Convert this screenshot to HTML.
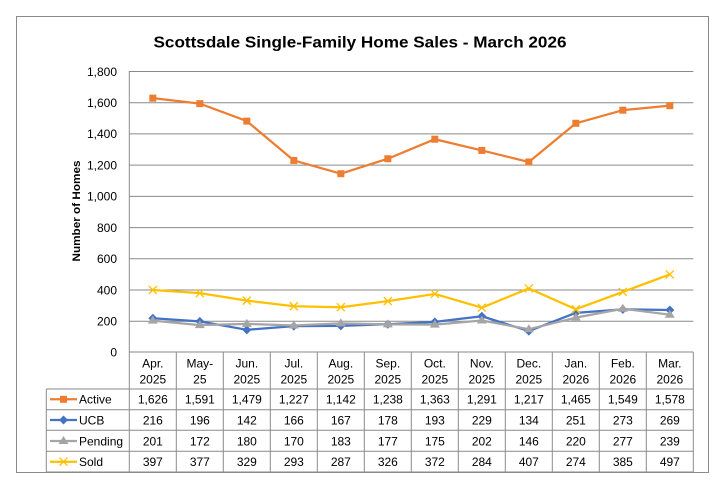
<!DOCTYPE html>
<html><head><meta charset="utf-8"><style>
html,body{margin:0;padding:0;background:#fff;}
svg{display:block;}
text{font-family:"Liberation Sans",Arial,sans-serif;fill:#000;}
</style></head><body>
<svg width="720" height="480" viewBox="0 0 720 480" xmlns="http://www.w3.org/2000/svg">
<rect x="0" y="0" width="720" height="480" fill="#fff"/>
<rect x="16.5" y="16.5" width="692" height="456" fill="none" stroke="#8a8a8a" stroke-width="1"/>
<text x="360" y="47.3" font-size="16" font-weight="bold" text-anchor="middle" textLength="413" lengthAdjust="spacingAndGlyphs">Scottsdale Single-Family Home Sales - March 2026</text>
<text transform="translate(80,211) rotate(-90)" font-size="11" font-weight="bold" text-anchor="middle" textLength="101" lengthAdjust="spacingAndGlyphs">Number of Homes</text>
<g stroke="#8a8a8a" stroke-width="1" fill="none">
<line x1="129.3" y1="71.5" x2="693.3" y2="71.5"/>
<line x1="129.3" y1="102.7" x2="693.3" y2="102.7"/>
<line x1="129.3" y1="133.9" x2="693.3" y2="133.9"/>
<line x1="129.3" y1="165.1" x2="693.3" y2="165.1"/>
<line x1="129.3" y1="196.4" x2="693.3" y2="196.4"/>
<line x1="129.3" y1="227.6" x2="693.3" y2="227.6"/>
<line x1="129.3" y1="258.8" x2="693.3" y2="258.8"/>
<line x1="129.3" y1="290.0" x2="693.3" y2="290.0"/>
<line x1="129.3" y1="321.2" x2="693.3" y2="321.2"/>
<line x1="129.3" y1="352" x2="693.3" y2="352"/>
<line x1="129.3" y1="71" x2="129.3" y2="472.5"/>
<line x1="176.3" y1="352" x2="176.3" y2="472.5"/>
<line x1="223.3" y1="352" x2="223.3" y2="472.5"/>
<line x1="270.3" y1="352" x2="270.3" y2="472.5"/>
<line x1="317.3" y1="352" x2="317.3" y2="472.5"/>
<line x1="364.3" y1="352" x2="364.3" y2="472.5"/>
<line x1="411.3" y1="352" x2="411.3" y2="472.5"/>
<line x1="458.3" y1="352" x2="458.3" y2="472.5"/>
<line x1="505.3" y1="352" x2="505.3" y2="472.5"/>
<line x1="552.3" y1="352" x2="552.3" y2="472.5"/>
<line x1="599.3" y1="352" x2="599.3" y2="472.5"/>
<line x1="646.3" y1="352" x2="646.3" y2="472.5"/>
<line x1="693.3" y1="352" x2="693.3" y2="472.5"/>
<line x1="46.3" y1="389" x2="46.3" y2="472.5"/>
<line x1="46.3" y1="389" x2="693.3" y2="389"/>
<line x1="46.3" y1="409.7" x2="693.3" y2="409.7"/>
<line x1="46.3" y1="430.3" x2="693.3" y2="430.3"/>
<line x1="46.3" y1="451.3" x2="693.3" y2="451.3"/>
<line x1="46.3" y1="472.3" x2="693.3" y2="472.3" stroke-width="1.5"/>
</g>
<g font-size="12" text-anchor="end">
<text x="117" y="75.8">1,800</text>
<text x="117" y="107">1,600</text>
<text x="117" y="138.2">1,400</text>
<text x="117" y="169.4">1,200</text>
<text x="117" y="200.7">1,000</text>
<text x="117" y="231.9">800</text>
<text x="117" y="263.1">600</text>
<text x="117" y="294.3">400</text>
<text x="117" y="325.5">200</text>
<text x="117" y="356.5">0</text>
</g>
<!-- Active -->
<polyline fill="none" stroke="#ED7D31" stroke-width="2.25" stroke-linejoin="round" points="152.83,98.16 199.83,103.63 246.83,121.11 293.83,160.45 340.83,173.72 387.83,158.73 434.83,139.22 481.83,150.46 528.83,162.01 575.83,123.30 622.83,110.18 669.83,105.66"/>
<g fill="#ED7D31">
<rect x="149.33" y="94.66" width="7" height="7"/>
<rect x="196.33" y="100.13" width="7" height="7"/>
<rect x="243.33" y="117.61" width="7" height="7"/>
<rect x="290.33" y="156.95" width="7" height="7"/>
<rect x="337.33" y="170.22" width="7" height="7"/>
<rect x="384.33" y="155.23" width="7" height="7"/>
<rect x="431.33" y="135.72" width="7" height="7"/>
<rect x="478.33" y="146.96" width="7" height="7"/>
<rect x="525.33" y="158.51" width="7" height="7"/>
<rect x="572.33" y="119.80" width="7" height="7"/>
<rect x="619.33" y="106.68" width="7" height="7"/>
<rect x="666.33" y="102.16" width="7" height="7"/>
</g>
<!-- UCB -->
<polyline fill="none" stroke="#4472C4" stroke-width="2.25" stroke-linejoin="round" points="152.83,318.28 199.83,321.40 246.83,329.83 293.83,326.09 340.83,325.93 387.83,324.21 434.83,321.87 481.83,316.25 528.83,331.08 575.83,312.82 622.83,309.38 669.83,310.01"/>
<g fill="#4472C4">
<path d="M152.83,313.78 l4.5,4.5 l-4.5,4.5 l-4.5,-4.5z"/>
<path d="M199.83,316.9 l4.5,4.5 l-4.5,4.5 l-4.5,-4.5z"/>
<path d="M246.83,325.33 l4.5,4.5 l-4.5,4.5 l-4.5,-4.5z"/>
<path d="M293.83,321.59 l4.5,4.5 l-4.5,4.5 l-4.5,-4.5z"/>
<path d="M340.83,321.43 l4.5,4.5 l-4.5,4.5 l-4.5,-4.5z"/>
<path d="M387.83,319.71 l4.5,4.5 l-4.5,4.5 l-4.5,-4.5z"/>
<path d="M434.83,317.37 l4.5,4.5 l-4.5,4.5 l-4.5,-4.5z"/>
<path d="M481.83,311.75 l4.5,4.5 l-4.5,4.5 l-4.5,-4.5z"/>
<path d="M528.83,326.58 l4.5,4.5 l-4.5,4.5 l-4.5,-4.5z"/>
<path d="M575.83,308.32 l4.5,4.5 l-4.5,4.5 l-4.5,-4.5z"/>
<path d="M622.83,304.88 l4.5,4.5 l-4.5,4.5 l-4.5,-4.5z"/>
<path d="M669.83,305.51 l4.5,4.5 l-4.5,4.5 l-4.5,-4.5z"/>
</g>
<!-- Pending -->
<polyline fill="none" stroke="#A5A5A5" stroke-width="2.25" stroke-linejoin="round" points="152.83,320.62 199.83,325.15 246.83,323.90 293.83,325.46 340.83,323.43 387.83,324.37 434.83,324.68 481.83,320.47 528.83,329.21 575.83,317.66 622.83,308.76 669.83,314.69"/>
<g fill="#A5A5A5">
<path d="M152.83,315.62 l5,8 h-10z"/>
<path d="M199.83,320.15 l5,8 h-10z"/>
<path d="M246.83,318.9 l5,8 h-10z"/>
<path d="M293.83,320.46 l5,8 h-10z"/>
<path d="M340.83,318.43 l5,8 h-10z"/>
<path d="M387.83,319.37 l5,8 h-10z"/>
<path d="M434.83,319.68 l5,8 h-10z"/>
<path d="M481.83,315.47 l5,8 h-10z"/>
<path d="M528.83,324.21 l5,8 h-10z"/>
<path d="M575.83,312.66 l5,8 h-10z"/>
<path d="M622.83,303.76 l5,8 h-10z"/>
<path d="M669.83,309.69 l5,8 h-10z"/>
</g>
<!-- Sold -->
<polyline fill="none" stroke="#FFC000" stroke-width="2.25" stroke-linejoin="round" points="152.83,290.02 199.83,293.15 246.83,300.64 293.83,306.26 340.83,307.20 387.83,301.11 434.83,293.93 481.83,307.66 528.83,288.46 575.83,309.23 622.83,291.90 669.83,274.41"/>
<g stroke="#FFC000" stroke-width="1.3" fill="none">
<path d="M148.83,286.02 l8,8 M156.83,286.02 l-8,8"/>
<path d="M195.83,289.15 l8,8 M203.83,289.15 l-8,8"/>
<path d="M242.83,296.64 l8,8 M250.83,296.64 l-8,8"/>
<path d="M289.83,302.26 l8,8 M297.83,302.26 l-8,8"/>
<path d="M336.83,303.2 l8,8 M344.83,303.2 l-8,8"/>
<path d="M383.83,297.11 l8,8 M391.83,297.11 l-8,8"/>
<path d="M430.83,289.93 l8,8 M438.83,289.93 l-8,8"/>
<path d="M477.83,303.66 l8,8 M485.83,303.66 l-8,8"/>
<path d="M524.83,284.46 l8,8 M532.83,284.46 l-8,8"/>
<path d="M571.83,305.23 l8,8 M579.83,305.23 l-8,8"/>
<path d="M618.83,287.9 l8,8 M626.83,287.9 l-8,8"/>
<path d="M665.83,270.41 l8,8 M673.83,270.41 l-8,8"/>
</g>
<!-- header -->
<g font-size="12" text-anchor="middle">
<text x="152.83" y="367.5">Apr.</text><text x="152.83" y="383.5">2025</text>
<text x="199.83" y="367.5">May-</text><text x="199.83" y="383.5">25</text>
<text x="246.83" y="367.5">Jun.</text><text x="246.83" y="383.5">2025</text>
<text x="293.83" y="367.5">Jul.</text><text x="293.83" y="383.5">2025</text>
<text x="340.83" y="367.5">Aug.</text><text x="340.83" y="383.5">2025</text>
<text x="387.83" y="367.5">Sep.</text><text x="387.83" y="383.5">2025</text>
<text x="434.83" y="367.5">Oct.</text><text x="434.83" y="383.5">2025</text>
<text x="481.83" y="367.5">Nov.</text><text x="481.83" y="383.5">2025</text>
<text x="528.83" y="367.5">Dec.</text><text x="528.83" y="383.5">2025</text>
<text x="575.83" y="367.5">Jan.</text><text x="575.83" y="383.5">2026</text>
<text x="622.83" y="367.5">Feb.</text><text x="622.83" y="383.5">2026</text>
<text x="669.83" y="367.5">Mar.</text><text x="669.83" y="383.5">2026</text>
</g>
<g font-size="12" text-anchor="middle">
<text x="152.83" y="403.7">1,626</text><text x="199.83" y="403.7">1,591</text><text x="246.83" y="403.7">1,479</text><text x="293.83" y="403.7">1,227</text><text x="340.83" y="403.7">1,142</text><text x="387.83" y="403.7">1,238</text><text x="434.83" y="403.7">1,363</text><text x="481.83" y="403.7">1,291</text><text x="528.83" y="403.7">1,217</text><text x="575.83" y="403.7">1,465</text><text x="622.83" y="403.7">1,549</text><text x="669.83" y="403.7">1,578</text>
<text x="152.83" y="424.4">216</text><text x="199.83" y="424.4">196</text><text x="246.83" y="424.4">142</text><text x="293.83" y="424.4">166</text><text x="340.83" y="424.4">167</text><text x="387.83" y="424.4">178</text><text x="434.83" y="424.4">193</text><text x="481.83" y="424.4">229</text><text x="528.83" y="424.4">134</text><text x="575.83" y="424.4">251</text><text x="622.83" y="424.4">273</text><text x="669.83" y="424.4">269</text>
<text x="152.83" y="445.3">201</text><text x="199.83" y="445.3">172</text><text x="246.83" y="445.3">180</text><text x="293.83" y="445.3">170</text><text x="340.83" y="445.3">183</text><text x="387.83" y="445.3">177</text><text x="434.83" y="445.3">175</text><text x="481.83" y="445.3">202</text><text x="528.83" y="445.3">146</text><text x="575.83" y="445.3">220</text><text x="622.83" y="445.3">277</text><text x="669.83" y="445.3">239</text>
<text x="152.83" y="466">397</text><text x="199.83" y="466">377</text><text x="246.83" y="466">329</text><text x="293.83" y="466">293</text><text x="340.83" y="466">287</text><text x="387.83" y="466">326</text><text x="434.83" y="466">372</text><text x="481.83" y="466">284</text><text x="528.83" y="466">407</text><text x="575.83" y="466">274</text><text x="622.83" y="466">385</text><text x="669.83" y="466">497</text>
</g>
<!-- legend -->
<line x1="50" y1="399.3" x2="77" y2="399.3" stroke="#ED7D31" stroke-width="2.25"/>
<rect x="60" y="395.8" width="7" height="7" fill="#ED7D31"/>
<line x1="50" y1="420" x2="77" y2="420" stroke="#4472C4" stroke-width="2.25"/>
<path d="M63.5,415.5 l4.5,4.5 l-4.5,4.5 l-4.5,-4.5z" fill="#4472C4"/>
<line x1="50" y1="441" x2="77" y2="441" stroke="#A5A5A5" stroke-width="2.25"/>
<path d="M63.5,436 l5,8 h-10z" fill="#A5A5A5"/>
<line x1="50" y1="461.7" x2="77" y2="461.7" stroke="#FFC000" stroke-width="2.25"/>
<path d="M59.5,457.7 l8,8 M67.5,457.7 l-8,8" stroke="#FFC000" stroke-width="1.3" fill="none"/>
<g font-size="12">
<text x="79" y="403.7">Active</text>
<text x="79" y="424.4">UCB</text>
<text x="79" y="445.3">Pending</text>
<text x="79" y="466">Sold</text>
</g>
</svg>
</body></html>
